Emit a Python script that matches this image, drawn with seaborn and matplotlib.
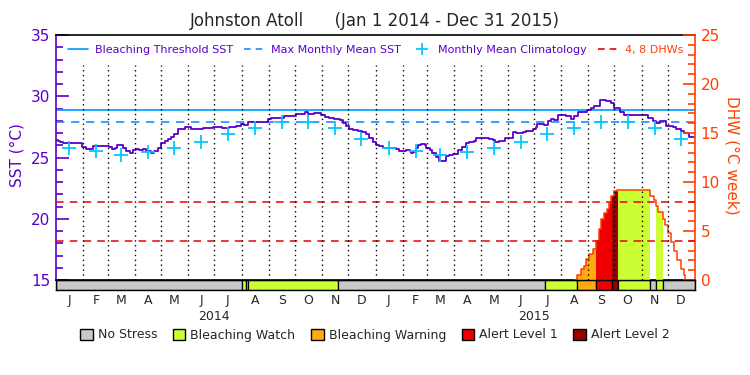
import numpy as np
import pandas as pd
import matplotlib
matplotlib.use("Agg")
import matplotlib.pyplot as plt
import matplotlib.dates as mdates
import matplotlib.transforms as mtransforms
from matplotlib.lines import Line2D
from matplotlib.patches import Patch
from matplotlib.ticker import MultipleLocator
import seaborn as sns

# colours
purple = "#5a00c8"
thr_color = "#0099ff"
mmm_color = "#1a8cff"
clim_color = "#00c8ff"
dhw_red = "#ff4000"
line_red = "#ee0000"
stress_colors = {"none": "#c8c8c8", "watch": "#ccff33", "warning": "#ffaa11",
                 "alert1": "#ee0000", "alert2": "#990000"}

# SST time series
sst_dates = [
    "2014-01-01", "2014-01-03", "2014-01-05", "2014-01-09", "2014-01-13", "2014-01-28",
    "2014-01-31", "2014-02-04", "2014-02-08", "2014-02-12", "2014-02-27", "2014-03-03",
    "2014-03-06", "2014-03-09", "2014-03-12", "2014-03-16", "2014-03-18", "2014-03-22",
    "2014-03-26", "2014-03-30", "2014-04-02", "2014-04-06", "2014-04-10", "2014-04-14",
    "2014-04-20", "2014-04-23", "2014-04-27", "2014-05-01", "2014-05-05", "2014-05-09",
    "2014-05-12", "2014-05-16", "2014-05-20", "2014-05-24", "2014-05-28", "2014-05-31",
    "2014-06-04", "2014-06-10", "2014-06-18", "2014-06-25", "2014-06-29", "2014-07-03",
    "2014-07-10", "2014-07-18", "2014-07-26", "2014-07-31", "2014-08-04", "2014-08-08",
    "2014-08-12", "2014-08-18", "2014-08-23", "2014-08-27", "2014-08-31", "2014-09-04",
    "2014-09-09", "2014-09-13", "2014-09-19", "2014-09-27", "2014-10-02", "2014-10-08",
    "2014-10-12", "2014-10-16", "2014-10-19", "2014-10-23", "2014-10-27", "2014-10-31",
    "2014-11-04", "2014-11-09", "2014-11-15", "2014-11-21", "2014-11-25", "2014-11-28",
    "2014-12-02", "2014-12-06", "2014-12-12", "2014-12-17", "2014-12-21", "2014-12-25",
    "2014-12-29", "2015-01-02", "2015-01-05", "2015-01-09", "2015-01-15", "2015-01-21",
    "2015-01-24", "2015-01-28", "2015-01-31", "2015-02-05", "2015-02-09", "2015-02-11",
    "2015-02-13", "2015-02-16", "2015-02-18", "2015-02-22", "2015-02-26", "2015-02-28",
    "2015-03-04", "2015-03-07", "2015-03-11", "2015-03-15", "2015-03-21", "2015-03-23",
    "2015-03-26", "2015-03-31", "2015-04-05", "2015-04-10", "2015-04-14", "2015-04-18",
    "2015-04-24", "2015-04-26", "2015-05-03", "2015-05-11", "2015-05-15", "2015-05-18",
    "2015-05-22", "2015-05-26", "2015-05-29", "2015-06-03", "2015-06-07", "2015-06-11",
    "2015-06-18", "2015-06-22", "2015-06-30", "2015-07-03", "2015-07-05", "2015-07-12",
    "2015-07-17", "2015-07-21", "2015-07-24", "2015-07-29", "2015-08-07", "2015-08-12",
    "2015-08-16", "2015-08-20", "2015-08-31", "2015-09-04", "2015-09-08", "2015-09-14",
    "2015-09-21", "2015-09-27", "2015-10-01", "2015-10-07", "2015-10-12", "2015-10-22",
    "2015-10-31", "2015-11-08", "2015-11-14", "2015-11-17", "2015-11-19", "2015-11-22",
    "2015-11-26", "2015-11-29", "2015-12-07", "2015-12-10", "2015-12-16", "2015-12-20",
    "2015-12-25", "2015-12-31",
]
sst_values = [
    26.43, 26.35, 26.24, 26.16, 26.21, 26.19,
    25.88, 25.69, 25.69, 25.97, 25.97, 25.88,
    25.67, 25.80, 26.02, 26.02, 25.75, 25.56,
    25.40, 25.61, 25.69, 25.61, 25.67, 25.56,
    25.40, 25.50, 25.75, 26.16, 26.38, 26.51,
    26.65, 26.89, 27.30, 27.35, 27.52, 27.46,
    27.33, 27.35, 27.41, 27.44, 27.52, 27.46,
    27.44, 27.52, 27.60, 27.71, 27.68, 27.87,
    27.93, 27.93, 27.87, 27.90, 28.14, 28.22,
    28.20, 28.25, 28.36, 28.39, 28.52, 28.52,
    28.69, 28.55, 28.52, 28.66, 28.63, 28.50,
    28.33, 28.20, 28.14, 28.09, 27.84, 27.57,
    27.33, 27.25, 27.16, 27.11, 26.89, 26.62,
    26.24, 26.02, 25.94, 25.80, 25.75, 25.75,
    25.67, 25.53, 25.56, 25.59, 25.56, 25.40,
    25.48, 25.75, 25.99, 26.08, 26.02, 25.75,
    25.61, 25.40, 25.07, 24.74, 24.74, 25.12,
    25.20, 25.29, 25.61, 25.88, 26.16, 26.24,
    26.38, 26.56, 26.56, 26.54, 26.40, 26.27,
    26.38, 26.38, 26.56, 26.62, 27.05, 27.03,
    27.08, 27.16, 27.30, 27.52, 27.71, 27.68,
    27.98, 28.17, 28.09, 28.47, 28.42, 28.17,
    28.39, 28.74, 28.85, 29.04, 29.20, 29.67,
    29.61, 29.42, 29.07, 28.69, 28.50, 28.47,
    28.44, 28.25, 28.01, 27.79, 27.79, 27.95,
    27.95, 27.57, 27.49, 27.33, 27.16, 26.97,
    26.67, 26.65,
]

# monthly mean climatology (Jan..Dec), shown for both years
clim_monthly = [25.80, 25.55, 25.23, 25.42, 25.75, 26.27, 26.90, 27.43, 27.86, 27.87, 27.43, 26.48]
mmm_sst = 27.87
threshold_sst = 28.87
dhw_levels = [4, 8]

# degree heating weeks (twice-weekly steps)
dhw_dates = [
    "2015-08-16", "2015-08-19", "2015-08-24", "2015-08-27", "2015-08-30", "2015-09-02",
    "2015-09-06", "2015-09-10", "2015-09-13", "2015-09-16", "2015-09-19", "2015-09-22",
    "2015-09-25", "2015-09-27", "2015-09-30", "2015-10-04", "2015-11-11", "2015-11-15",
    "2015-11-17", "2015-11-20", "2015-11-25", "2015-11-28", "2015-12-01", "2015-12-05",
    "2015-12-08", "2015-12-12", "2015-12-16", "2015-12-19", "2015-12-21",
]
dhw_values = [
    0.0, 0.5, 1.1, 1.46, 2.14, 2.7,
    3.16, 3.95, 5.17, 6.2, 6.8, 7.24,
    7.9, 8.6, 9.08, 9.18, 8.6, 8.16,
    7.6, 6.9, 6.2, 5.6, 4.76, 3.88,
    2.96, 2.04, 1.1, 0.5, 0.0,
]

# bleaching alert stress periods
stress_start = ["2014-01-01", "2014-08-02", "2014-08-06", "2014-08-08", "2014-11-19",
                "2015-07-14", "2015-08-19", "2015-09-10", "2015-09-28", "2015-10-05",
                "2015-11-11", "2015-11-18", "2015-11-25"]
stress_end = ["2014-08-02", "2014-08-06", "2014-08-08", "2014-11-19", "2015-07-14",
              "2015-08-19", "2015-09-10", "2015-09-28", "2015-10-05", "2015-11-11",
              "2015-11-18", "2015-11-25", "2016-01-01"]
stress_level = ["none", "watch", "none", "watch", "none",
                "watch", "warning", "alert1", "alert2", "watch",
                "none", "watch", "none"]

month_letters = list("JFMAMJJASOND") * 2
legend_labels = ["No Stress", "Bleaching Watch", "Bleaching Warning", "Alert Level 1", "Alert Level 2"]

sst = pd.DataFrame({"date": pd.to_datetime(sst_dates), "sst": sst_values})
clim = pd.DataFrame({
    "date": pd.date_range("2014-01-01", periods=24, freq="MS") + pd.Timedelta(days=15),
    "sst": clim_monthly + clim_monthly,
})
dhw = pd.Series(dhw_values, index=pd.to_datetime(dhw_dates))
stress = pd.DataFrame({"start": pd.to_datetime(stress_start),
                       "end": pd.to_datetime(stress_end),
                       "level": stress_level})

sns.set_style("white")
plt.rcParams["font.family"] = ["DejaVu Sans"]

fig = plt.figure(figsize=(7.5, 3.75), dpi=100)
ax = fig.add_axes([56 / 750, 1 - 280 / 375, 639 / 750, 245 / 375])
ax2 = ax.twinx()
axb = fig.add_axes([56 / 750, 1 - 290 / 375, 639 / 750, 10 / 375], sharex=ax)

x0, x1 = pd.Timestamp("2014-01-01"), pd.Timestamp("2016-01-01")

# SST panel
ax.axhline(threshold_sst, color=thr_color, lw=1.2, zorder=2)
ax.axhline(mmm_sst, color=mmm_color, lw=1.2, ls=(0, (5, 4)), zorder=2)
sns.lineplot(data=sst, x="date", y="sst", ax=ax, color=purple, lw=1.3, zorder=3,
             drawstyle="steps-post")
sns.scatterplot(data=clim, x="date", y="sst", ax=ax, marker="+", s=90,
                color=clim_color, linewidth=1.3, zorder=4)
ax.set_ylim(15, 35)
ax.set_xlim(x0, x1)
ax.set_xlabel("")
ax.set_ylabel("")
ax.yaxis.set_major_locator(MultipleLocator(5))
ax.yaxis.set_minor_locator(MultipleLocator(1))
ax.tick_params(axis="y", which="both", left=True, right=False, direction="in")
ax.tick_params(axis="y", which="major", length=9, width=1.2,
               color=purple, labelcolor=purple, labelsize=11, pad=4)
ax.tick_params(axis="y", which="minor", length=5, width=1.2, color=purple)
ax.tick_params(axis="x", which="both", bottom=False, labelbottom=False)
ax.spines["left"].set_color(purple)
ax.spines["left"].set_linewidth(1.2)
for s in ["top", "bottom"]:
    ax.spines[s].set_color("black")
    ax.spines[s].set_linewidth(1.2)
ax.spines["right"].set_visible(False)

# DHW panel
days = pd.date_range("2015-08-01", "2015-12-31", freq="D")
dhw_daily = dhw.reindex(days, method="ffill").fillna(0)
for _, row in stress.iterrows():
    if row["level"] == "none":
        continue
    m = (days >= row["start"]) & (days <= row["end"])
    if m.sum() == 0:
        continue
    ax2.fill_between(days[m], 0, dhw_daily[m].values, step="post",
                     color=stress_colors[row["level"]], lw=0, zorder=1)
ax2.plot(dhw.index, dhw.values, drawstyle="steps-post", color=dhw_red, lw=1.1, zorder=3)
for lev in dhw_levels:
    ax2.axhline(lev, color=line_red, lw=1.1, ls=(0, (5, 4)), zorder=4)
for d in pd.date_range("2014-02-01", "2015-12-01", freq="MS"):
    ax2.axvline(d, ymin=0, ymax=0.877, color="black", lw=1.0, ls=(0, (1, 2.5)), zorder=5)
ax2.set_ylim(0, 25)
ax2.yaxis.set_major_locator(MultipleLocator(5))
ax2.yaxis.set_minor_locator(MultipleLocator(1))
ax2.tick_params(axis="y", which="both", right=True, left=False, direction="in")
ax2.tick_params(axis="y", which="major", length=9, width=1.2,
                color=dhw_red, labelcolor=dhw_red, labelsize=11, pad=4)
ax2.tick_params(axis="y", which="minor", length=5, width=1.2, color=dhw_red)
ax2.spines["right"].set_color(dhw_red)
ax2.spines["right"].set_linewidth(1.2)
for s in ["left", "top", "bottom"]:
    ax2.spines[s].set_visible(False)

# stress bar
for _, row in stress.iterrows():
    left = mdates.date2num(row["start"])
    width = mdates.date2num(row["end"]) - left
    axb.barh(0.5, width, left=left, height=1, color=stress_colors[row["level"]],
             edgecolor="black", lw=0.9)
axb.set_ylim(0, 1)
axb.set_yticks([])
mid_months = pd.date_range("2014-01-01", periods=24, freq="MS") + pd.Timedelta(days=15)
axb.set_xticks(mdates.date2num(mid_months))
axb.set_xticklabels(month_letters)
axb.tick_params(axis="x", length=0, labelsize=9, pad=3)
for s in axb.spines.values():
    s.set_color("black")
    s.set_linewidth(1.0)
trans = mtransforms.blended_transform_factory(axb.transData, axb.transAxes)
for yr in ["2014", "2015"]:
    axb.text(mdates.date2num(pd.Timestamp(yr + "-07-01")), -2.6, yr, transform=trans,
             ha="center", va="center", fontsize=9)

# legends
handles = [
    Line2D([], [], color=thr_color, lw=1.2),
    Line2D([], [], color=mmm_color, lw=1.2, ls=(0, (4, 3))),
    Line2D([], [], color=clim_color, marker="+", ls="none", ms=8, mew=1.3),
    Line2D([], [], color=line_red, lw=1.2, ls=(0, (4, 3))),
]
leg = ax2.legend(handles, ["Bleaching Threshold SST", "Max Monthly Mean SST",
                           "Monthly Mean Climatology", "4, 8 DHWs"],
                 ncol=4, loc="center left", bbox_to_anchor=(0.019, 0.939),
                 frameon=False, fontsize=8, handlelength=1.8, handletextpad=0.6,
                 columnspacing=1.0, borderaxespad=0, borderpad=0)
for i, t in enumerate(leg.get_texts()):
    t.set_color(dhw_red if i == 3 else purple)

patches = [Patch(facecolor=stress_colors[k], edgecolor="black", lw=1.0)
           for k in ["none", "watch", "warning", "alert1", "alert2"]]
fig.legend(patches, legend_labels, ncol=5, loc="center", bbox_to_anchor=(0.5, 1 - 335 / 375),
           frameon=False, fontsize=9, handlelength=1.0, handleheight=1.0,
           handletextpad=0.4, columnspacing=1.25)

fig.text(0.5, 1 - 21 / 375, "Johnston Atoll      (Jan 1 2014 - Dec 31 2015)",
         ha="center", va="center", fontsize=12)
fig.text(17 / 750, 1 - 155 / 375, "SST (\u00b0C)", rotation=90, color=purple,
         ha="center", va="center", fontsize=11)
fig.text(732 / 750, 1 - 155 / 375, "DHW (\u00b0C week)", rotation=270, color=dhw_red,
         ha="center", va="center", fontsize=11)

fig.savefig("out.png", dpi=100)
